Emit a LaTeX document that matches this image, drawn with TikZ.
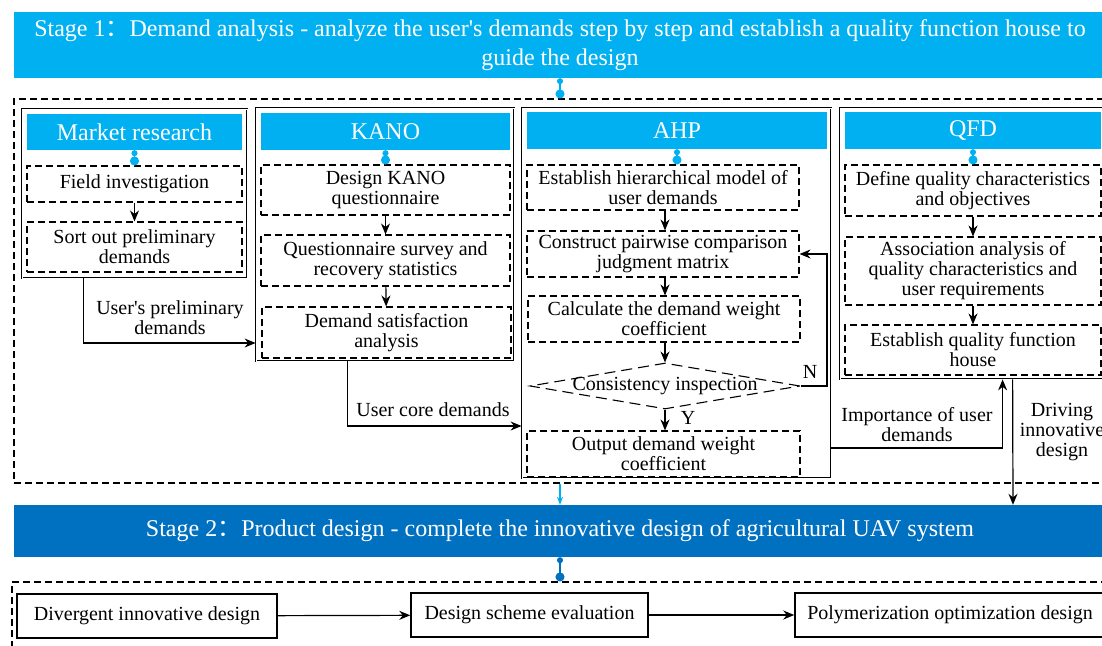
\documentclass[tikz,border=0pt]{standalone}
\usepackage{fontspec}
\setmainfont{Liberation Serif}
\newfontfamily\cjk{Noto Sans CJK SC}
\usetikzlibrary{arrows.meta,shapes.geometric}
\definecolor{cyanb}{HTML}{00B0F0}
\definecolor{blueb}{HTML}{0070C0}
\newcommand\rectnode[7]{\node[#6, minimum width={(#4-#2)*1pt}, minimum height={(#5-#3)*1pt}] (#1) at ({(#2+#4)/2},{(#3+#5)/2}) {#7};}
\newcommand\fcolon{{\cjk ：}}
\newcommand\ap{\textquotesingle}
\begin{document}
\begin{tikzpicture}[x=1pt,y=-1pt,
  dsh/.style={draw, dash pattern=on 7pt off 4pt, line width=1.1pt, inner sep=0pt, align=center, font=\fontsize{20}{20}\selectfont},
  outerbox/.style={draw, line width=0.8pt, double, double distance=0.9pt, inner sep=0pt},
  titlebar/.style={fill=cyanb, text=white, inner sep=0pt, font=\fontsize{24}{24}\selectfont},
  stagebar/.style={inner sep=0pt, text=white, align=center, font=\fontsize{24}{29}\selectfont},
  plainbox/.style={draw, line width=1.5pt, inner sep=0pt, font=\fontsize{20}{20}\selectfont},
  lbl/.style={align=center, inner sep=0pt, font=\fontsize{20}{20}\selectfont},
  arr/.style={-{Stealth[length=11pt,width=9pt]}, line width=1.2pt},
  cdot/.style={cyanb, line width=1.4pt, {Circle[length=6pt]}-{Circle[length=9pt]}},
  bdot/.style={blueb, line width=1.4pt, {Circle[length=6pt]}-{Circle[length=9pt]}},
]
\useasboundingbox (0,0) rectangle (1102,645);
\clip (0,0) rectangle (1102,645);

% Stage 1
\rectnode{s1}{14}{12}{1106}{78}{stagebar, fill=cyanb}{Stage 1\fcolon Demand analysis - analyze the user\ap s demands step by step and establish a quality function house to\\guide the design}
\rectnode{frame1}{14}{99}{1115}{483}{draw, dash pattern=on 7pt off 4pt, line width=1.1pt}{}
\draw[cdot] (s1.south) -- (frame1.north -| s1.south);

% Market research
\rectnode{mr}{22}{109}{247}{278}{outerbox}{}
\rectnode{mrt}{27}{114}{242}{150}{titlebar}{Market research}
\rectnode{fi}{27}{166}{242}{202}{dsh}{Field investigation}
\rectnode{so}{27}{222}{242}{272}{dsh}{Sort out preliminary\\demands}
\draw[cdot] (mrt.south) -- (fi.north);
\draw[arr] (fi) -- (so);

% KANO
\rectnode{kano}{256}{108}{514}{361}{outerbox}{}
\rectnode{kanot}{261}{113}{510}{150}{titlebar}{KANO}
\rectnode{dk}{261}{165}{510}{215}{dsh}{Design KANO\\questionnaire}
\rectnode{qs}{261}{235}{510}{286}{dsh}{Questionnaire survey and\\recovery statistics}
\rectnode{ds}{262}{307}{511}{358}{dsh}{Demand satisfaction\\analysis}
\draw[cdot] (kanot.south) -- (dk.north);
\draw[arr] (dk) -- (qs);
\draw[arr] (qs) -- (ds);

% AHP
\rectnode{ahp}{522}{108}{831}{478}{outerbox}{}
\rectnode{ahpt}{527}{112}{827}{149}{titlebar}{AHP}
\rectnode{eh}{527}{165}{799}{210}{dsh}{Establish hierarchical model of\\user demands}
\rectnode{cp}{527}{231}{799}{277}{dsh}{Construct pairwise comparison\\judgment matrix}
\rectnode{cd}{528}{296}{800}{342}{dsh}{Calculate the demand weight\\coefficient}
\node[diamond, draw, dash pattern=on 11pt off 6pt, line width=1.1pt, minimum width=270pt, minimum height=46pt, inner sep=0pt] (ci) at (665,386) {};
\node[lbl] (cit) at (ci.center) {Consistency inspection};
\rectnode{od}{527}{431}{800}{477}{dsh}{Output demand weight\\coefficient}
\draw[cdot] (ahpt.south) -- (eh.north -| ahpt.south);
\draw[arr] (eh.south -| ci.north) -- (cp.north -| ci.north);
\draw[arr] (cp.south -| ci.north) -- (cd.north -| ci.north);
\draw[arr] (cd.south -| ci.north) -- (ci.north);
\draw[arr] (ci.south) -- (od.north -| ci.south);
\coordinate (nloop) at (827,386);
\draw[arr] (ci.east) -- (nloop) |- (cp.east);
\node[lbl] (nlab) at (810,372) {N};
\node[lbl] (ylab) at (688,418) {Y};

% QFD
\rectnode{qfd}{840}{108}{1110}{379}{outerbox}{}
\rectnode{qfdt}{845}{112}{1101}{149}{titlebar}{QFD}
\rectnode{dq}{845}{165}{1101}{216}{dsh}{Define quality characteristics\\and objectives}
\rectnode{aa}{845}{237}{1101}{305}{dsh}{Association analysis of\\quality characteristics and\\user requirements}
\rectnode{eq}{845}{325}{1101}{375}{dsh}{Establish quality function\\house}
\draw[cdot] (qfdt.south) -- (dq.north);
\draw[arr] (dq) -- (aa);
\draw[arr] (aa) -- (eq);

% Stage 2
\rectnode{s2}{14}{505}{1106}{557}{stagebar, fill=blueb}{Stage 2\fcolon Product design - complete the innovative design of agricultural UAV system}
\rectnode{frame2}{12}{582}{1115}{660}{draw, dash pattern=on 7pt off 4pt, line width=1.1pt}{}
\draw[bdot] (s2.south) -- (frame2.north -| s2.south);

% inter-box connectors
\draw[arr] ([xshift=62pt]mr.south west) |- ([yshift=-108.5pt]kano.west);
\node[lbl] (l1) at (170,318) {User\ap s preliminary\\demands};
\draw[arr] ([xshift=92pt]kano.south west) |- ([yshift=-133pt]ahp.west);
\node[lbl] (l2) at (433,410) {User core demands};
\draw[arr] ([yshift=-155pt]ahp.east) -| ([xshift=163pt]qfd.south west);
\node[lbl] (l3) at (917,425) {Importance of user\\demands};
\draw[arr] ([xshift=173pt]qfd.south west) -- (s2.north -| 1013,0);
\node[lbl] (l4) at (1062,432) {Driving\\innovative\\design};
\draw[cyanb, line width=1.1pt, -{Stealth[length=8pt,width=6pt]}] (frame1.south -| s1.south) -- (s2.north);

% Stage 2 boxes
\rectnode{dv}{17}{594}{277}{638}{plainbox}{Divergent innovative design}
\rectnode{dse}{411}{593}{648}{637}{plainbox}{Design scheme evaluation}
\rectnode{po}{795}{593}{1105}{637}{plainbox}{Polymerization optimization design}
\draw[arr] (dv) -- (dse);
\draw[arr] (dse) -- (po);
\end{tikzpicture}
\end{document}
